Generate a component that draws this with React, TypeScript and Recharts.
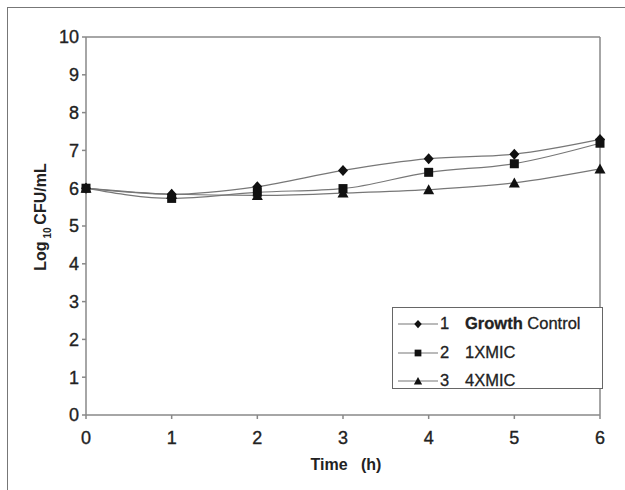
import React from "react";
import { LineChart, Line, XAxis, YAxis, ReferenceLine } from "recharts";

// Time (h)
const hours = [0, 1, 2, 3, 4, 5, 6];
// log10 CFU/mL per series
const growthControl = [6.0, 5.84, 6.04, 6.47, 6.78, 6.9, 7.29];
const oneXMic = [6.0, 5.73, 5.89, 5.99, 6.42, 6.65, 7.19];
const fourXMic = [6.0, 5.84, 5.81, 5.87, 5.96, 6.14, 6.51];
const yTicks = [0, 1, 2, 3, 4, 5, 6, 7, 8, 9, 10];

const seriesInfo = [
  { key: "gc", num: "1", name: "Growth", name2: "Control", values: growthControl, marker: "diamond" },
  { key: "x1", num: "2", name: "1XMIC", name2: "", values: oneXMic, marker: "square" },
  { key: "x4", num: "3", name: "4XMIC", name2: "", values: fourXMic, marker: "triangle" },
];

const data = hours.map((h, i) => {
  const row: any = { t: h };
  seriesInfo.forEach(s => { row[s.key] = s.values[i]; });
  return row;
});

const FONT = "'Liberation Sans', Arial, sans-serif";
const AXIS = "#888";
const LINE = "#777";
const tickStyle = { fontFamily: FONT, fontSize: 18, fill: "#222", stroke: "#222", strokeWidth: 0.35 };

const markerPath = (kind: string, cx: number, cy: number, s = 1) => {
  if (kind === "diamond") return `M${cx},${cy - 5.5 * s}L${cx + 5 * s},${cy}L${cx},${cy + 5.5 * s}L${cx - 5 * s},${cy}Z`;
  if (kind === "square") return `M${cx - 4.5 * s},${cy - 4.5 * s}h${9 * s}v${9 * s}h${-9 * s}Z`;
  return `M${cx},${cy - 5.5 * s}L${cx + 5.5 * s},${cy + 4.5 * s}L${cx - 5.5 * s},${cy + 4.5 * s}Z`;
};

const makeDot = (kind: string) => (props: any) => {
  const { cx, cy, index } = props;
  if (cx == null || cy == null) return <g key={`${kind}-${index}`} />;
  return <path key={`${kind}-${index}`} d={markerPath(kind, cx, cy)} fill="#111" />;
};

const YLabel = () => (
  <text
    x={0}
    y={0}
    transform="translate(46,217) rotate(-90)"
    textAnchor="middle"
    fontFamily={FONT}
    fontWeight="bold"
    fontSize={16}
    fill="#222"
    xmlSpace="preserve"
  >
    Log<tspan fontSize={10} dy={5}> 10 </tspan>
    <tspan dy={-5}>CFU/mL</tspan>
  </text>
);

const XLabel = () => (
  <text x={346} y={470} textAnchor="middle" fontFamily={FONT} fontWeight="bold" fontSize={16} fill="#222" xmlSpace="preserve">
    Time   (h)
  </text>
);

const LegendBox = () => (
  <div
    style={{
      position: "absolute",
      left: 392,
      top: 307,
      width: 211,
      height: 82,
      border: "1px solid #666",
      boxSizing: "border-box",
      background: "#fff",
      fontFamily: FONT,
      fontSize: 16.5,
      color: "#222",
      WebkitTextStroke: "0.3px #222",
    }}
  >
    {seriesInfo.map((s, i) => (
      <div key={s.key} style={{ position: "absolute", left: 0, top: 6 + i * 28.5, height: 20, width: 205 }}>
        <svg width={48} height={20} style={{ position: "absolute", left: 4, top: 0 }}>
          <line x1={1} y1={10} x2={41} y2={10} stroke={LINE} strokeWidth={1.2} />
          <path d={markerPath(s.marker, 21, 10, 0.75)} fill="#111" />
        </svg>
        <span style={{ position: "absolute", left: 47, top: 0 }}>{s.num}</span>
        <span style={{ position: "absolute", left: 72, top: 0, whiteSpace: "pre" }}>
          <span style={{ fontWeight: s.name2 ? "bold" : "normal" }}>{s.name}</span>
          {s.name2 ? " " + s.name2 : ""}
        </span>
      </div>
    ))}
  </div>
);

export default function App() {
  return (
    <div style={{ position: "absolute", left: 0, top: 0, width: 625, height: 490, background: "#fff", overflow: "hidden" }}>
      {/* outer frame */}
      <div style={{ position: "absolute", left: 7, top: 7, width: 640, height: 500, borderLeft: "1.5px solid #777", borderTop: "1.5px solid #777" }} />
      <div style={{ position: "absolute", left: 0, top: 0 }}>
        <LineChart width={625} height={490} data={data} margin={{ top: 37, right: 25, bottom: 45, left: 46 }}>
          <XAxis
            dataKey="t"
            type="number"
            domain={[0, 6]}
            ticks={hours}
            stroke={AXIS}
            strokeWidth={1.5}
            tickSize={4}
            tickMargin={12}
            height={30}
            tick={tickStyle}
            label={<XLabel />}
          />
          <YAxis
            type="number"
            domain={[0, 10]}
            ticks={yTicks}
            stroke={AXIS}
            strokeWidth={1.5}
            tickSize={4}
            tickMargin={3}
            width={40}
            interval={0}
            tick={tickStyle}
            label={<YLabel />}
          />
          <ReferenceLine x={6} stroke={AXIS} strokeWidth={1.5} />
          <ReferenceLine y={10} stroke={AXIS} strokeWidth={1.5} />
          {seriesInfo.map(s => (
            <Line
              key={s.key}
              dataKey={s.key}
              name={s.name}
              type="monotone"
              stroke={LINE}
              strokeWidth={1.2}
              dot={makeDot(s.marker)}
              activeDot={false}
              isAnimationActive={false}
            />
          ))}
        </LineChart>
      </div>
      <LegendBox />
    </div>
  );
}
